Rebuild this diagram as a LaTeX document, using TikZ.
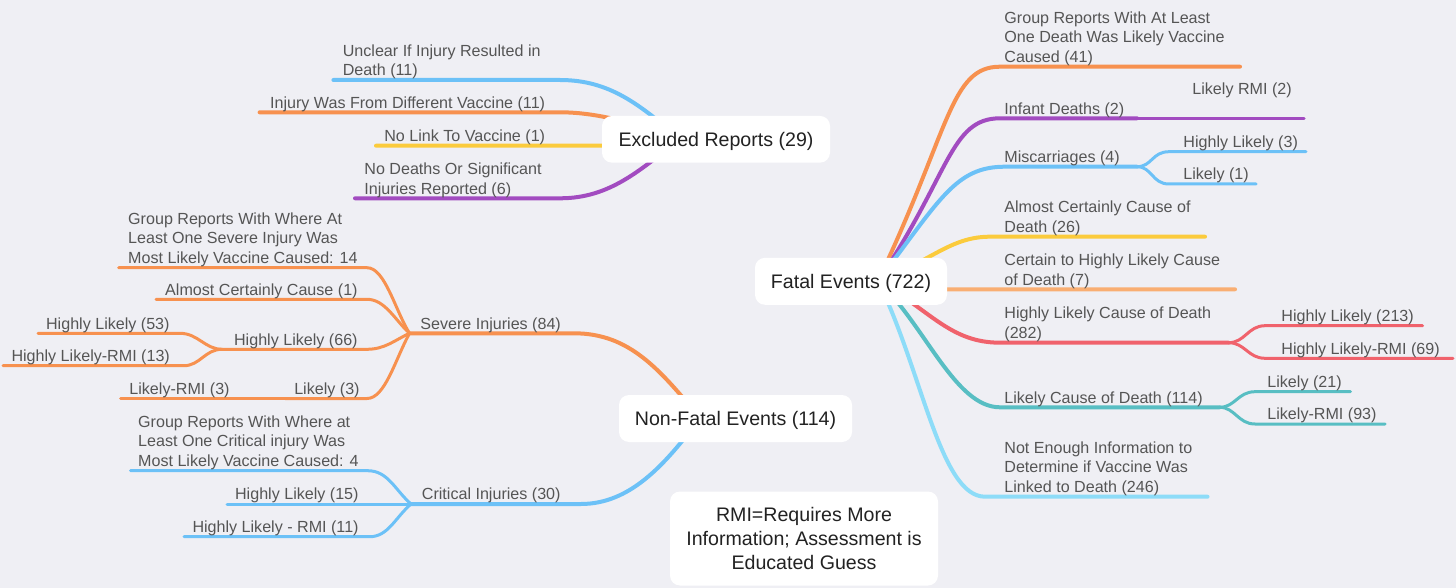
\documentclass[tikz,border=0pt]{standalone}
\usepackage{fontspec}
\setmainfont{Liberation Sans}
\definecolor{bgc}{HTML}{EFEFF4}
\definecolor{cblue}{HTML}{6CC1F7}
\definecolor{corange}{HTML}{F7914F}
\definecolor{cyellow}{HTML}{FBCB3C}
\definecolor{cpurple}{HTML}{A24BC0}
\definecolor{cpeach}{HTML}{F9AE72}
\definecolor{cred}{HTML}{F0626C}
\definecolor{cteal}{HTML}{58BEC3}
\definecolor{ccyan}{HTML}{8DDCF8}
\definecolor{lblc}{HTML}{555555}
\definecolor{mainc}{HTML}{222222}
\pgfdeclarelayer{bg}
\pgfdeclarelayer{lines}
\pgfsetlayers{bg,lines,main}
\tikzset{
 lbl/.style={font=\fontsize{8.05}{9.85}\selectfont, text=lblc, inner sep=0pt, align=left, anchor=south west, yshift=-1.1pt, execute at end node={\strut}},
 lblR/.style={lbl, anchor=south east},
 topic/.style={font=\fontsize{9.8}{12}\selectfont, text=mainc, fill=white, rounded corners=5pt, inner sep=0pt, align=center},
 topic1/.style={topic, text height=7.2pt, text depth=0.3pt},
 brline/.style={line width=2pt, line cap=round, draw=#1},
 subline/.style={line width=1.5pt, line cap=round, draw=#1},
}
\begin{document}
\begin{tikzpicture}[x=0.5pt,y=-0.5pt]
\begin{pgfonlayer}{bg}
\fill[bgc] (0,0) rectangle (1456,588);
\end{pgfonlayer}
\useasboundingbox (0,0) rectangle (1456,588);

% topics
\node[topic1, minimum width=114pt, minimum height=23.35pt] (ex) at (716,139.3) {Excluded Reports (29)};
\node[topic1, minimum width=96pt, minimum height=23.5pt] (fe) at (851,281.3) {Fatal Events (722)};
\node[topic1, minimum width=116.5pt, minimum height=23.5pt] (nf) at (735.5,418.5) {Non-Fatal Events (114)};
\node[topic, minimum width=134pt, minimum height=47pt] (rmi) at (804,538.5) {RMI=Requires More\\Information; Assessment is\\Educated Guess};

% hubs
\coordinate (exhub) at (680,139);
\coordinate (fhub) at (878,281);
\coordinate (nfhub) at (700,418);
\coordinate (svhub) at (409.5,333.3);
\coordinate (hl66hub) at (222,349.3);
\coordinate (crhub) at (411,504);
\coordinate (mischub) at (1137,166.7);
\coordinate (hlcdhub) at (1228.6,342.7);
\coordinate (lcdhub) at (1219.6,407.3);
\coordinate (infhub) at (1137,118.3);
\coordinate (l3hub) at (285,398.5);

% excluded labels
\node[lblR] (unclear) at (541,80) {Unclear If Injury Resulted in\\Death (11)};
\node[lblR] (injdiff) at (545.5,112.3) {Injury Was From Different Vaccine (11)};
\node[lblR] (nolink) at (545.5,145.7) {No Link To Vaccine (1)};
\node[lblR] (nodeath) at (542,198.3) {No Deaths Or Significant\\Injuries Reported (6)};

% fatal labels
\node[lbl] (grp41) at (1004,66.7) {Group Reports With At Least\\One Death Was Likely Vaccine\\Caused (41)};
\node[lbl] (infant) at (1004,118.3) {Infant Deaths (2)};
\node[lbl] (lrmi2) at (1192,98.9) {Likely RMI (2)};
\node[lbl] (misc) at (1004,166.7) {Miscarriages (4)};
\node[lbl] (hl3) at (1183,151.7) {Highly Likely (3)};
\node[lbl] (l1) at (1183,184) {Likely (1)};
\node[lbl] (acd) at (1004,236.7) {Almost Certainly Cause of\\Death (26)};
\node[lbl] (cthl) at (1004,289.3) {Certain to Highly Likely Cause\\of Death (7)};
\node[lbl] (hlcd) at (1004,342.7) {Highly Likely Cause of Death\\(282)};
\node[lbl] (hl213) at (1281,325.7) {Highly Likely (213)};
\node[lbl] (hlrmi69) at (1281,358.3) {Highly Likely-RMI (69)};
\node[lbl] (lcd) at (1004,407.3) {Likely Cause of Death (114)};
\node[lbl] (l21) at (1267,391.7) {Likely (21)};
\node[lbl] (lrmi93) at (1267,424) {Likely-RMI (93)};
\node[lbl] (nei) at (1004,496.7) {Not Enough Information to\\Determine if Vaccine Was\\Linked to Death (246)};

% non-fatal labels
\node[lbl] (sev) at (420,333.3) {Severe Injuries (84)};
\node[lblR] (grpsev) at (358,267.7) {Group Reports With Where At\\Least One Severe Injury Was\\Most Likely Vaccine Caused: 14};
\node[lblR] (acc1) at (358,299.3) {Almost Certainly Cause (1)};
\node[lblR] (hl66) at (358,349.3) {Highly Likely (66)};
\node[lblR] (hl53) at (170,333.3) {Highly Likely (53)};
\node[lblR] (hlrmi13) at (170.3,365.7) {Highly Likely-RMI (13)};
\node[lblR] (l3) at (360,398.5) {Likely (3)};
\node[lblR] (lrmi3) at (230,398.5) {Likely-RMI (3)};
\node[lbl] (crit) at (421.5,504) {Critical Injuries (30)};
\node[lblR] (grpcrit) at (359,470.7) {Group Reports With Where at\\Least One Critical injury Was\\Most Likely Vaccine Caused: 4};
\node[lblR] (hl15) at (359,504) {Highly Likely (15)};
\node[lblR] (hlrmi11) at (359,536.7) {Highly Likely - RMI (11)};

\begin{pgfonlayer}{lines}
% excluded
\draw[brline=cblue] (333.4,80) -- (560,80) .. controls (610,80) and (640,105) .. (exhub);
\draw[brline=corange] (259.6,112.3) -- (560,112.3) .. controls (600,112.3) and (640,125) .. (exhub);
\draw[brline=cyellow] (376,145.7) -- (600,145.7) .. controls (640,145.7) .. (exhub);
\draw[brline=cpurple] (355,198.3) -- (560,198.3) .. controls (610,198.3) and (640,170) .. (exhub);
% fatal
\draw[brline=corange] (fhub) .. controls (950,130) and (950,66.7) .. (1000,66.7) -- (1240,66.7);
\draw[brline=cpurple] (fhub) .. controls (950,175) and (950,118.3) .. (1000,118.3) -- (infhub);
\draw[subline=cpurple] (infhub) -- (1304,118.3);
\draw[brline=cblue] (fhub) .. controls (940,200) and (955,166.7) .. (1005,166.7) -- (mischub);
\draw[subline=cblue] (mischub) .. controls (1152,166.7) and (1152,151.7) .. (1169,151.7) -- (1306,151.7);
\draw[subline=cblue] (mischub) .. controls (1152,166.7) and (1152,184) .. (1169,184) -- (1256,184);
\draw[brline=cyellow] (fhub) .. controls (930,262) and (950,236.7) .. (990,236.7) -- (1205,236.7);
\draw[brline=cpeach] (fhub) .. controls (910,289.3) .. (950,289.3) -- (1235,289.3);
\draw[brline=cred] (fhub) .. controls (930,310) and (950,342.7) .. (1000,342.7) -- (hlcdhub);
\draw[subline=cred] (hlcdhub) .. controls (1245,342.7) and (1248,325.7) .. (1265,325.7) -- (1422.6,325.7);
\draw[subline=cred] (hlcdhub) .. controls (1245,342.7) and (1248,358.3) .. (1265,358.3) -- (1453,358.3);
\draw[brline=cteal] (fhub) .. controls (925,325) and (955,407.3) .. (1000,407.3) -- (lcdhub);
\draw[subline=cteal] (lcdhub) .. controls (1235,407.3) and (1238,391.7) .. (1255,391.7) -- (1350.5,391.7);
\draw[subline=cteal] (lcdhub) .. controls (1235,407.3) and (1238,424) .. (1255,424) -- (1385,424);
\draw[brline=ccyan] (fhub) .. controls (922,370) and (940,496.7) .. (985,496.7) -- (1207.5,496.7);
% non-fatal
\draw[brline=corange] (svhub) -- (574,333.3) .. controls (630,333.3) and (660,370) .. (nfhub);
\draw[brline=cblue] (crhub) -- (581,504) .. controls (630,504) and (665,465) .. (nfhub);
\draw[subline=corange] (118.6,267.7) -- (367,267.7) .. controls (385,267.7) and (395,310) .. (svhub);
\draw[subline=corange] (156,299.3) -- (367,299.3) .. controls (385,299.3) and (395,320) .. (svhub);
\draw[subline=corange] (hl66hub) -- (367,349.3) .. controls (385,349.3) and (395,340) .. (svhub);
\draw[subline=corange] (38,333.3) -- (180,333.3) .. controls (198,333.3) and (205,349.3) .. (hl66hub);
\draw[subline=corange] (3,365.7) -- (184,365.7) .. controls (200,365.7) and (205,349.3) .. (hl66hub);
\draw[subline=corange] (l3hub) -- (367,398.5) .. controls (385,398.5) and (395,360) .. (svhub);
\draw[subline=corange] (120.6,398.5) -- (l3hub);
\draw[subline=cblue] (130.5,470.7) -- (367.7,470.7) .. controls (388,470.7) and (395,490) .. (crhub);
\draw[subline=cblue] (227,504) -- (crhub);
\draw[subline=cblue] (184,536.7) -- (369.7,536.7) .. controls (388,536.7) and (395,518) .. (crhub);
\end{pgfonlayer}
\end{tikzpicture}
\end{document}
